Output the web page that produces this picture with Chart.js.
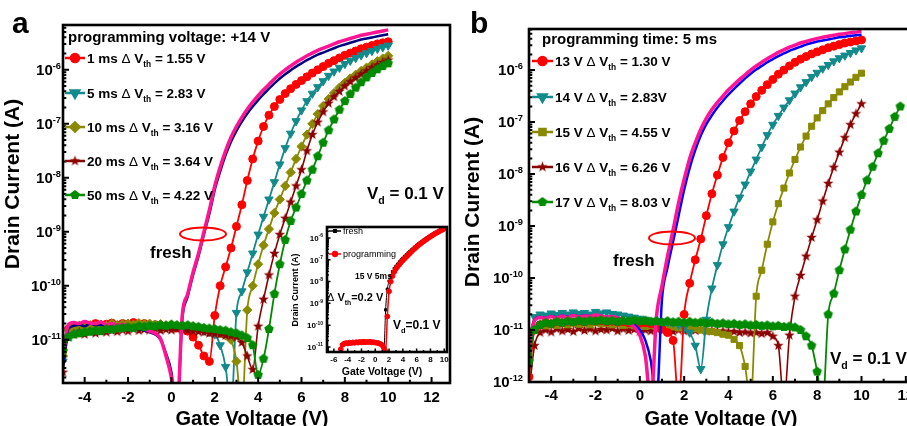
<!DOCTYPE html>
<html>
<head>
<meta charset="utf-8">
<title>Drain current vs gate voltage</title>
<script src="https://cdn.jsdelivr.net/npm/chart.js@4.4.1/dist/chart.umd.min.js"></script>
<style>
  html, body { margin: 0; padding: 0; background: #fff; }
  body { width: 907px; height: 426px; overflow: hidden; position: relative; }
  canvas { position: absolute; }
  #panelA { left: 0; top: 0; }
  #panelB { left: 460px; top: 0; }
  #inset { left: 290px; top: 215px; }
</style>
</head>
<body>
<canvas id="panelA" width="460" height="426"></canvas>
<canvas id="panelB" width="480" height="426"></canvas>
<canvas id="inset" width="165" height="170"></canvas>
<script>
const FONT = '"Liberation Sans", Arial, Helvetica, sans-serif';

// gate voltage sweep (V)
const gateV = [
  -5, -4.75, -4.5, -4.25, -4, -3.75, -3.5, -3.25,
  -3, -2.75, -2.5, -2.25, -2, -1.75, -1.5, -1.25,
  -1, -0.75, -0.5, -0.25, 0, 0.25, 0.5, 0.75,
  1, 1.25, 1.5, 1.75, 2, 2.25, 2.5, 2.75,
  3, 3.25, 3.5, 3.75, 4, 4.25, 4.5, 4.75,
  5, 5.25, 5.5, 5.75, 6, 6.25, 6.5, 6.75,
  7, 7.25, 7.5, 7.75, 8, 8.25, 8.5, 8.75,
  9, 9.25, 9.5, 9.75, 10
];
// the 17 V sweep runs further
const gateV17 = gateV.concat([10.25, 10.5, 10.75, 11, 11.25, 11.5, 11.75]);

// log10 of drain current (A) -- panel a, +14 V pulses of different length
const freshPinkA = [
  -11.3, -10.72, -10.68, -10.7, -10.66, -10.69, -10.7, -10.67,
  -10.72, -10.7, -10.73, -10.71, -10.74, -10.76, -10.78, -10.8,
  -10.84, -10.88, -10.98, -11.3, -11.7, -12.4, -10.55, -10.15,
  -9.75, -9.4, -9.0, -8.6, -8.15, -7.8, -7.5, -7.25,
  -7.05, -6.88, -6.73, -6.6, -6.48, -6.37, -6.27, -6.17,
  -6.08, -6.0, -5.93, -5.86, -5.8, -5.74, -5.69, -5.64,
  -5.6, -5.56, -5.52, -5.48, -5.45, -5.42, -5.39, -5.36,
  -5.34, -5.32, -5.3, -5.28, -5.26
];
const freshNavyA = [
  -11.5, -10.8, -10.74, -10.72, -10.75, -10.7, -10.73, -10.72,
  -10.74, -10.73, -10.75, -10.74, -10.76, -10.78, -10.8, -10.83,
  -10.86, -10.9, -11.0, -11.25, -11.6, -12.4, -10.62, -10.2,
  -9.8, -9.45, -9.05, -8.67, -8.22, -7.88, -7.58, -7.33,
  -7.13, -6.96, -6.81, -6.68, -6.56, -6.45, -6.35, -6.25,
  -6.16, -6.08, -6.01, -5.94, -5.88, -5.82, -5.77, -5.72,
  -5.68, -5.64, -5.6, -5.56, -5.53, -5.5, -5.47, -5.44,
  -5.42, -5.4, -5.38, -5.36, -5.34
];
const pulse1ms = [
  -11.2, -10.8, -10.74, -10.78, -10.72, -10.75, -10.7, -10.74,
  -10.71, -10.69, -10.73, -10.7, -10.72, -10.68, -10.71, -10.7,
  -10.73, -10.72, -10.74, -10.76, -10.75, -10.78, -10.8, -10.84,
  -10.95, -11.1, -11.3, -11.4, -10.55, -10.0, -9.65, -9.3,
  -8.9, -8.5, -8.05, -7.65, -7.32, -7.05, -6.84, -6.68,
  -6.55, -6.44, -6.35, -6.27, -6.2, -6.13, -6.06, -6.0,
  -5.94, -5.88, -5.83, -5.78, -5.73, -5.69, -5.65, -5.61,
  -5.58, -5.55, -5.52, -5.5, -5.48
];
const pulse5ms = [
  -11.4, -10.85, -10.78, -10.8, -10.76, -10.79, -10.75, -10.77,
  -10.74, -10.76, -10.73, -10.75, -10.72, -10.74, -10.72, -10.71,
  -10.73, -10.72, -10.74, -10.73, -10.75, -10.74, -10.76, -10.77,
  -10.79, -10.8, -10.83, -10.86, -10.9, -11.1, -11.5, -12.3,
  -10.5, -10.1, -9.75, -9.4, -9.05, -8.72, -8.4, -8.08,
  -7.75, -7.45, -7.18, -6.95, -6.75, -6.58, -6.44, -6.32,
  -6.21, -6.11, -6.03, -5.96, -5.89, -5.83, -5.78, -5.73,
  -5.69, -5.65, -5.61, -5.58, -5.55
];
const pulse10ms = [
  -11.3, -10.82, -10.76, -10.74, -10.77, -10.73, -10.75, -10.72,
  -10.74, -10.7, -10.73, -10.71, -10.7, -10.72, -10.69, -10.71,
  -10.7, -10.72, -10.71, -10.73, -10.72, -10.74, -10.73, -10.75,
  -10.76, -10.78, -10.8, -10.82, -10.85, -10.88, -10.92, -11.0,
  -11.4, -12.3, -10.45, -10.0, -9.6, -9.25, -8.95, -8.65,
  -8.4, -8.15, -7.9, -7.65, -7.42, -7.2, -7.0, -6.82,
  -6.67, -6.54, -6.43, -6.33, -6.24, -6.16, -6.09, -6.02,
  -5.96, -5.9, -5.84, -5.79, -5.74
];
const pulse20ms = [
  -11.6, -10.95, -10.9, -10.86, -10.9, -10.85, -10.88, -10.84,
  -10.86, -10.83, -10.85, -10.82, -10.84, -10.8, -10.83, -10.81,
  -10.82, -10.8, -10.83, -10.81, -10.82, -10.8, -10.82, -10.83,
  -10.84, -10.85, -10.86, -10.88, -10.89, -10.9, -10.92, -10.93,
  -10.95, -11.05, -11.3, -11.55, -10.75, -10.25, -9.8, -9.4,
  -9.05, -8.75, -8.45, -8.15, -7.85, -7.5, -7.2, -6.97,
  -6.78, -6.62, -6.5, -6.4, -6.3, -6.22, -6.15, -6.08,
  -6.02, -5.96, -5.91, -5.86, -5.82
];
const pulse50ms = [
  -11.2, -10.95, -10.9, -10.88, -10.86, -10.85, -10.83, -10.84,
  -10.8, -10.81, -10.79, -10.78, -10.77, -10.78, -10.75, -10.76,
  -10.74, -10.75, -10.73, -10.74, -10.72, -10.73, -10.74, -10.73,
  -10.75, -10.76, -10.78, -10.79, -10.8, -10.82, -10.83, -10.86,
  -10.88, -10.92, -10.97, -11.1, -11.65, -11.35, -10.8, -10.15,
  -9.6, -9.15, -8.8, -8.55, -8.3, -8.05, -7.85, -7.6,
  -7.35, -7.12, -6.92, -6.74, -6.58, -6.45, -6.33, -6.23,
  -6.14, -6.06, -5.99, -5.93, -5.88
];

// log10 of drain current (A) -- panel b, 5 ms pulses of different amplitude
const freshPinkB = [
  -11.3, -10.82, -10.76, -10.78, -10.74, -10.77, -10.73, -10.76,
  -10.72, -10.75, -10.73, -10.74, -10.71, -10.73, -10.75, -10.74,
  -10.77, -10.8, -10.85, -10.95, -11.1, -11.5, -12.4, -10.75,
  -10.15, -9.58, -9.08, -8.55, -8.1, -7.7, -7.4, -7.14,
  -6.93, -6.76, -6.62, -6.5, -6.38, -6.28, -6.18, -6.09,
  -6.0, -5.92, -5.85, -5.78, -5.72, -5.66, -5.61, -5.56,
  -5.52, -5.48, -5.45, -5.42, -5.39, -5.37, -5.35, -5.33,
  -5.31, -5.3, -5.28, -5.27, -5.26
];
const freshBlueB = [
  -11.4, -10.8, -10.75, -10.77, -10.73, -10.76, -10.72, -10.75,
  -10.71, -10.74, -10.72, -10.73, -10.72, -10.74, -10.76, -10.75,
  -10.78, -10.8, -10.84, -10.9, -11.0, -11.2, -11.6, -12.4,
  -10.4, -9.8, -9.3, -8.8, -8.3, -7.88, -7.54, -7.26,
  -7.04, -6.87, -6.72, -6.59, -6.47, -6.36, -6.26, -6.16,
  -6.07, -5.99, -5.92, -5.85, -5.79, -5.73, -5.68, -5.63,
  -5.59, -5.55, -5.51, -5.48, -5.45, -5.43, -5.41, -5.39,
  -5.37, -5.36, -5.34, -5.33, -5.32
];
const pulse13V = [
  -11.9, -11.0, -10.9, -10.86, -10.88, -10.84, -10.86, -10.83,
  -10.85, -10.82, -10.84, -10.81, -10.83, -10.82, -10.84, -10.83,
  -10.85, -10.84, -10.86, -10.85, -10.87, -10.86, -10.88, -10.9,
  -10.98, -11.05, -11.2, -12.4, -10.7, -10.1, -9.65, -9.25,
  -8.8, -8.38, -8.02, -7.68, -7.4, -7.17, -6.97, -6.8,
  -6.65, -6.51, -6.39, -6.28, -6.18, -6.08, -6.0, -5.92,
  -5.85, -5.79, -5.74, -5.69, -5.65, -5.61, -5.57, -5.54,
  -5.51, -5.48, -5.46, -5.44, -5.42
];
const pulse14V = [
  -11.2, -10.75, -10.7, -10.72, -10.68, -10.71, -10.67, -10.7,
  -10.66, -10.69, -10.67, -10.7, -10.65, -10.68, -10.66, -10.69,
  -10.7, -10.72, -10.74, -10.76, -10.78, -10.8, -10.82, -10.83,
  -10.84, -10.85, -10.86, -10.9, -10.96, -11.05, -11.3, -11.75,
  -10.8, -10.2, -9.75, -9.35, -9.02, -8.72, -8.45, -8.2,
  -7.95, -7.72, -7.48, -7.25, -7.05, -6.88, -6.72, -6.58,
  -6.45, -6.33, -6.23, -6.13, -6.05, -5.97, -5.9, -5.83,
  -5.77, -5.72, -5.67, -5.62, -5.58
];
const pulse15V = [
  -11.5, -10.95, -10.9, -10.92, -10.88, -10.91, -10.87, -10.9,
  -10.86, -10.89, -10.87, -10.9, -10.86, -10.88, -10.87, -10.9,
  -10.88, -10.91, -10.89, -10.92, -10.9, -10.93, -10.91, -10.94,
  -10.92, -10.95, -10.94, -10.96, -10.95, -10.97, -10.98, -11.0,
  -11.02, -11.03, -11.05, -11.08, -11.1, -11.18, -11.3, -11.7,
  -12.4, -10.35, -9.85, -9.35, -8.92, -8.57, -8.27, -7.98,
  -7.72, -7.48, -7.27, -7.08, -6.92, -6.78, -6.65, -6.53,
  -6.42, -6.32, -6.23, -6.14, -6.06
];
const pulse16V = [
  -12.2, -11.3, -11.05, -11.0, -11.04, -10.98, -11.02, -10.99,
  -11.03, -10.97, -11.01, -10.98, -11.02, -10.99, -11.0, -10.97,
  -11.02, -10.98, -11.01, -10.99, -11.03, -11.0, -11.02, -10.98,
  -11.01, -10.99, -11.03, -11.0, -11.02, -10.99, -11.01, -11.0,
  -11.02, -11.01, -11.03, -11.02, -11.04, -11.03, -11.05, -11.04,
  -11.06, -11.05, -11.07, -11.05, -11.12, -11.3, -12.4, -11.1,
  -10.35, -9.95, -9.58, -9.22, -8.88, -8.52, -8.18, -7.87,
  -7.58, -7.3, -7.05, -6.84, -6.65
];
const pulse17V = [
  -11.6, -11.0, -10.9, -10.86, -10.88, -10.84, -10.86, -10.83,
  -10.85, -10.82, -10.84, -10.82, -10.83, -10.81, -10.83, -10.82,
  -10.84, -10.82, -10.83, -10.81, -10.83, -10.82, -10.84, -10.83,
  -10.85, -10.83, -10.85, -10.84, -10.86, -10.84, -10.86, -10.85,
  -10.87, -10.86, -10.88, -10.87, -10.89, -10.88, -10.9, -10.89,
  -10.91, -10.9, -10.92, -10.91, -10.93, -10.92, -10.94, -10.93,
  -10.95, -11.0, -11.12, -11.3, -11.8, -12.4, -10.7, -10.3,
  -9.85, -9.45, -9.07, -8.72, -8.4, -8.12, -7.86, -7.6,
  -7.36, -7.13, -6.9, -6.7
];

// inset: 15 V / 5 ms on a fresh device
const insetFresh = [
  -11.15, -10.92, -10.86, -10.84, -10.82, -10.81, -10.8, -10.8,
  -10.79, -10.79, -10.78, -10.78, -10.77, -10.77, -10.77, -10.77,
  -10.77, -10.77, -10.78, -10.78, -10.79, -10.8, -10.82, -10.85,
  -10.95, -11.15, -9.3, -8.35, -7.98, -7.74, -7.55, -7.4,
  -7.3, -7.2, -7.1, -7.01, -6.93, -6.85, -6.77, -6.69,
  -6.62, -6.55, -6.48, -6.41, -6.34, -6.28, -6.22, -6.16,
  -6.1, -6.05, -5.99, -5.94, -5.89, -5.84, -5.79, -5.75,
  -5.71, -5.67, -5.63, -5.59, -5.56
];
const insetProg = [
  -11.1, -10.9, -10.85, -10.82, -10.84, -10.8, -10.82, -10.79,
  -10.81, -10.78, -10.8, -10.77, -10.79, -10.76, -10.78, -10.77,
  -10.78, -10.76, -10.79, -10.78, -10.8, -10.81, -10.83, -10.86,
  -10.92, -11.05, -11.2, -9.6, -8.45, -8.0, -7.75, -7.56,
  -7.42, -7.31, -7.22, -7.12, -7.03, -6.95, -6.87, -6.79,
  -6.71, -6.63, -6.55, -6.48, -6.41, -6.34, -6.28, -6.22,
  -6.16, -6.1, -6.05, -5.99, -5.94, -5.89, -5.84, -5.79,
  -5.75, -5.7, -5.66, -5.62, -5.58
];

// legend entries
const tagsA = ['1 ms', '5 ms', '10 ms', '20 ms', '50 ms'];
const shiftsA = ['1.55 V', '2.83 V', '3.16 V', '3.64 V', '4.22 V'];
const tagsB = ['13 V', '14 V', '15 V', '16 V', '17 V'];
const shiftsB = ['1.30 V', '2.83V', '4.55 V', '6.26 V', '8.03 V'];

// tick labels
const xLabelsMain = [-4, -2, 0, 2, 4, 6, 8, 10, 12];
const yExpA = [-11, -10, -9, -8, -7, -6];
const yExpB = [-12, -11, -10, -9, -8, -7, -6];
const xLabelsInset = [-6, -4, -2, 0, 2, 4, 6, 8, 10];
const yExpInset = [-11, -10, -9, -8, -7, -6];

const RED = '#ff0000', TEAL = '#128a8a', OLIVE = '#8a8a00', MAROON = '#8b0000',
      GREEN = '#008a00', PINK = '#ff1493', NAVY = '#000080', BLUE = '#0000ff';

// filled polygon / star markers as small canvases
function polyMarker(color, r, corners, inner) {
  const size = Math.ceil(2 * r + 2);
  const c = document.createElement('canvas');
  c.width = c.height = size;
  const g = c.getContext('2d');
  g.fillStyle = color;
  g.beginPath();
  const n = inner ? corners * 2 : corners;
  for (let k = 0; k < n; k++) {
    const rr = inner && k % 2 ? r * inner : r;
    const ang = -Math.PI / 2 + k * 2 * Math.PI / n;
    g.lineTo(size / 2 + rr * Math.cos(ang), size / 2 + rr * Math.sin(ang));
  }
  g.closePath();
  g.fill();
  return c;
}

const mk = {
  circle:  { color: RED, style: 'circle', radius: 4 },
  down:    { color: TEAL, style: 'triangle', rotation: 180, radius: 4.8 },
  diamond: { color: OLIVE, style: 'rectRot', radius: 4.6 },
  square:  { color: OLIVE, style: 'rect', radius: 4.3 },
  star:    { color: MAROON, style: polyMarker(MAROON, 5.5, 5, 0.42), radius: 4 },
  pent:    { color: GREEN, style: polyMarker(GREEN, 5, 5), radius: 4 },
  small:   { color: '#000', style: 'rect', radius: 1.6 },
  dot:     { color: RED, style: 'circle', radius: 2.4 }
};

function series(label, xs, logs, m, width) {
  return {
    label,
    data: xs.map((v, i) => ({ x: v, y: 10 ** logs[i] })),
    borderColor: m.color,
    backgroundColor: m.color,
    borderWidth: width,
    pointStyle: m.style,
    pointRotation: m.rotation || 0,
    pointRadius: m.radius,
    pointBorderWidth: 1,
    pointBorderColor: m.color,
    pointBackgroundColor: m.color,
    cubicInterpolationMode: 'monotone'
  };
}

function plain(label, xs, logs, color, width) {
  return {
    label,
    data: xs.map((v, i) => ({ x: v, y: 10 ** logs[i] })),
    borderColor: color,
    borderWidth: width,
    pointRadius: 0,
    cubicInterpolationMode: 'monotone'
  };
}

// text with sub/superscripts; kinds: '' bold, 'thin', 'sub', 'sup'
function rich(ctx, x, y, parts, size, measureOnly) {
  let cx = x;
  for (const [txt, kind] of parts) {
    const small = kind === 'sub' || kind === 'sup';
    const s = small ? size * 0.62 : size;
    ctx.font = `${kind === 'thin' ? 'normal' : 'bold'} ${s}px ${FONT}`;
    const dy = kind === 'sub' ? size * 0.32 : kind === 'sup' ? -size * 0.42 : 0;
    if (!measureOnly) ctx.fillText(txt, cx, y + dy);
    cx += ctx.measureText(txt).width;
  }
  return cx - x;
}

const decor = {
  id: 'decor',
  beforeDatasetsDraw(chart, _args, o) {
    if (!o.paper) return;
    const { ctx, chartArea: a } = chart;
    ctx.save();
    ctx.fillStyle = '#fff';
    ctx.fillRect(a.left, a.top, a.width, a.height);
    ctx.restore();
  },
  afterDraw(chart, _args, o) {
    const { ctx, chartArea: a, scales: { x, y } } = chart;
    ctx.save();
    ctx.fillStyle = '#000';
    ctx.strokeStyle = '#000';
    ctx.textBaseline = 'alphabetic';

    // ticks point into the plot, left and bottom edges only
    ctx.lineWidth = o.tickWidth;
    ctx.beginPath();
    for (let v = Math.ceil(x.min); v <= x.max; v += 1) {
      const px = x.getPixelForValue(v);
      const len = v % 2 === 0 ? o.tickLen : o.tickLen * 0.55;
      ctx.moveTo(px, a.bottom);
      ctx.lineTo(px, a.bottom - len);
    }
    const e0 = Math.floor(Math.log10(y.min)), e1 = Math.ceil(Math.log10(y.max));
    for (let e = e0; e <= e1; e++) {
      for (let k = 1; k < 10; k++) {
        const v = k * 10 ** e;
        if (v < y.min || v > y.max) continue;
        const py = y.getPixelForValue(v);
        ctx.moveTo(a.left, py);
        ctx.lineTo(a.left + (k === 1 ? o.tickLen : o.tickLen * 0.55), py);
      }
    }
    ctx.stroke();

    ctx.lineWidth = o.frame;
    ctx.strokeRect(a.left, a.top, a.width, a.height);

    // tick labels
    ctx.font = `bold ${o.tickFont}px ${FONT}`;
    ctx.textAlign = 'center';
    o.xLabels.forEach(v => ctx.fillText(String(v), x.getPixelForValue(v), o.xLabelY));
    ctx.textAlign = 'left';
    o.yExp.forEach(e => {
      const py = y.getPixelForValue(10 ** e);
      const parts = [['10'], [String(e), 'sup']];
      const w = rich(ctx, 0, 0, parts, o.tickFont, true);
      rich(ctx, a.left - o.yGap - w, py + o.tickFont * 0.35, parts, o.tickFont);
    });

    // free text: titles, panel letter, notes
    (o.texts || []).forEach(t => {
      ctx.save();
      ctx.translate(t.x, t.y);
      if (t.rot) ctx.rotate(t.rot);
      const w = rich(ctx, 0, 0, t.parts, t.size, true);
      rich(ctx, t.center ? -w / 2 : 0, 0, t.parts, t.size);
      ctx.restore();
    });

    if (o.ring) {
      ctx.strokeStyle = RED;
      ctx.lineWidth = 2;
      ctx.beginPath();
      ctx.ellipse(o.ring.x, o.ring.y, o.ring.rx, o.ring.ry, 0, 0, 2 * Math.PI);
      ctx.stroke();
    }

    // legend: short line with marker, then the label
    const L = o.legend;
    if (L) {
      if (L.title) {
        ctx.fillStyle = '#000';
        rich(ctx, L.title.x, L.title.y, [[L.title.text]], L.title.size);
      }
      L.rows.forEach(r => {
        ctx.strokeStyle = r.m.color;
        ctx.fillStyle = r.m.color;
        ctx.lineWidth = L.line;
        ctx.beginPath();
        ctx.moveTo(L.x0, r.y);
        ctx.lineTo(L.x1, r.y);
        ctx.stroke();
        Chart.helpers.drawPoint(ctx, {
          pointStyle: r.m.style, rotation: r.m.rotation || 0,
          radius: r.m.radius, borderWidth: 1
        }, (L.x0 + L.x1) / 2, r.y);
        ctx.fillStyle = '#000';
        rich(ctx, L.tx, r.y + L.size * 0.36, r.parts, L.size);
      });
    }
    ctx.restore();
  }
};

function makeChart(id, datasets, xRange, yRange, padding, decorOpts) {
  return new Chart(document.getElementById(id), {
    type: 'line',
    data: { datasets },
    options: {
      responsive: false,
      animation: false,
      events: [],
      layout: { padding },
      scales: {
        x: { type: 'linear', display: false, min: xRange[0], max: xRange[1] },
        y: { type: 'logarithmic', display: false, min: yRange[0], max: yRange[1] }
      },
      plugins: {
        legend: { display: false },
        tooltip: { enabled: false },
        decor: decorOpts
      }
    },
    plugins: [decor]
  });
}

const dvth = (tag, shift) => [[tag + ' '], ['\u0394', 'thin'], [' V'], ['th', 'sub'], [' = ' + shift]];
const rowY_A = [58, 93, 127, 161, 195];
const rowY_B = [61, 97, 132, 167, 202];
const markersA = [mk.circle, mk.down, mk.diamond, mk.star, mk.pent];
const markersB = [mk.circle, mk.down, mk.square, mk.star, mk.pent];

// panel a: fixed +14 V amplitude, varying pulse length
makeChart('panelA', [
  series('50 ms', gateV, pulse50ms, mk.pent, 1.8),
  plain('fresh', gateV, freshPinkA, PINK, 3.5),
  plain('fresh (ref)', gateV, freshNavyA, NAVY, 2.5),
  series('20 ms', gateV, pulse20ms, mk.star, 1.6),
  series('10 ms', gateV, pulse10ms, mk.diamond, 1.8),
  series('5 ms', gateV, pulse5ms, mk.down, 1.8),
  series('1 ms', gateV, pulse1ms, mk.circle, 1.8)
], [-5, 12.85], [10 ** -11.8, 10 ** -5.17], { left: 63, top: 25, right: 10, bottom: 43 }, {
  frame: 2.6, tickWidth: 2, tickLen: 6, tickFont: 15,
  xLabels: xLabelsMain, xLabelY: 402, yExp: yExpA, yGap: 2,
  texts: [
    { x: 12, y: 33, parts: [['a']], size: 30 },
    { x: 19, y: 184, rot: -Math.PI / 2, center: true, parts: [['Drain Current (A)']], size: 21 },
    { x: 252, y: 425, center: true, parts: [['Gate Voltage (V)']], size: 20 },
    { x: 150, y: 258, parts: [['fresh']], size: 17 },
    { x: 367, y: 199, parts: [['V'], ['d', 'sub'], [' = 0.1 V']], size: 17 }
  ],
  ring: { x: 203, y: 234, rx: 23, ry: 6.5 },
  legend: {
    title: { text: 'programming voltage: +14 V', x: 68, y: 42, size: 15 },
    x0: 65, x1: 85, tx: 87, size: 13.5, line: 2.5,
    rows: tagsA.map((t, i) => ({ m: markersA[i], y: rowY_A[i], parts: dvth(t, shiftsA[i]) }))
  }
});

// panel b: fixed 5 ms length, varying amplitude
makeChart('panelB', [
  series('17 V', gateV17, pulse17V, mk.pent, 1.8),
  plain('fresh', gateV, freshPinkB, PINK, 3.5),
  plain('fresh (ref)', gateV, freshBlueB, BLUE, 2.5),
  series('13 V', gateV, pulse13V, mk.circle, 1.8),
  series('14 V', gateV, pulse14V, mk.down, 1.8),
  series('15 V', gateV, pulse15V, mk.square, 1.8),
  series('16 V', gateV, pulse16V, mk.star, 1.6)
], [-5, 13], [1e-12, 10 ** -5.21], { left: 69, top: 29, right: 12, bottom: 44 }, {
  frame: 2.6, tickWidth: 2, tickLen: 6, tickFont: 15,
  xLabels: xLabelsMain, xLabelY: 400, yExp: yExpB, yGap: 6,
  texts: [
    { x: 10, y: 33, parts: [['b']], size: 30 },
    { x: 19, y: 202, rot: -Math.PI / 2, center: true, parts: [['Drain Current (A)']], size: 21 },
    { x: 261, y: 425, center: true, parts: [['Gate Voltage (V)']], size: 20 },
    { x: 153, y: 266, parts: [['fresh']], size: 17 },
    { x: 370, y: 364, parts: [['V'], ['d', 'sub'], [' = 0.1 V']], size: 17 }
  ],
  ring: { x: 212, y: 238, rx: 23, ry: 6.5 },
  legend: {
    title: { text: 'programming time: 5 ms', x: 82, y: 44, size: 15 },
    x0: 72, x1: 93, tx: 95, size: 13.5, line: 2.5,
    rows: tagsB.map((t, i) => ({ m: markersB[i], y: rowY_B[i], parts: dvth(t, shiftsB[i]) }))
  }
});

// inset of panel a: small 15 V / 5 ms shift
makeChart('inset', [
  series('programming', gateV, insetProg, mk.dot, 1.5),
  series('fresh', gateV, insetFresh, mk.small, 1)
], [-7, 10.4], [10 ** -11.23, 10 ** -5.5], { left: 37, top: 12, right: 8, bottom: 33 }, {
  paper: true,
  frame: 2.6, tickWidth: 1.5, tickLen: 3.5, tickFont: 8,
  xLabels: xLabelsInset, xLabelY: 147, yExp: yExpInset, yGap: 4,
  texts: [
    { x: 8, y: 75, rot: -Math.PI / 2, center: true, parts: [['Drain Current (A)']], size: 9 },
    { x: 92, y: 160, center: true, parts: [['Gate Voltage (V)']], size: 10.5 },
    { x: 65, y: 64, parts: [['15 V 5ms']], size: 8.5 },
    { x: 37, y: 86, parts: [['\u0394', 'thin'], [' V'], ['th', 'sub'], ['=0.2 V']], size: 11 },
    { x: 103, y: 114, parts: [['V'], ['d', 'sub'], ['=0.1 V']], size: 12 }
  ],
  legend: {
    x0: 39, x1: 51, tx: 53, size: 9, line: 1.5,
    rows: [
      { m: mk.small, y: 16, parts: [['fresh', 'thin']] },
      { m: mk.dot, y: 39, parts: [['programming', 'thin']] }
    ]
  }
});
</script>
</body>
</html>
